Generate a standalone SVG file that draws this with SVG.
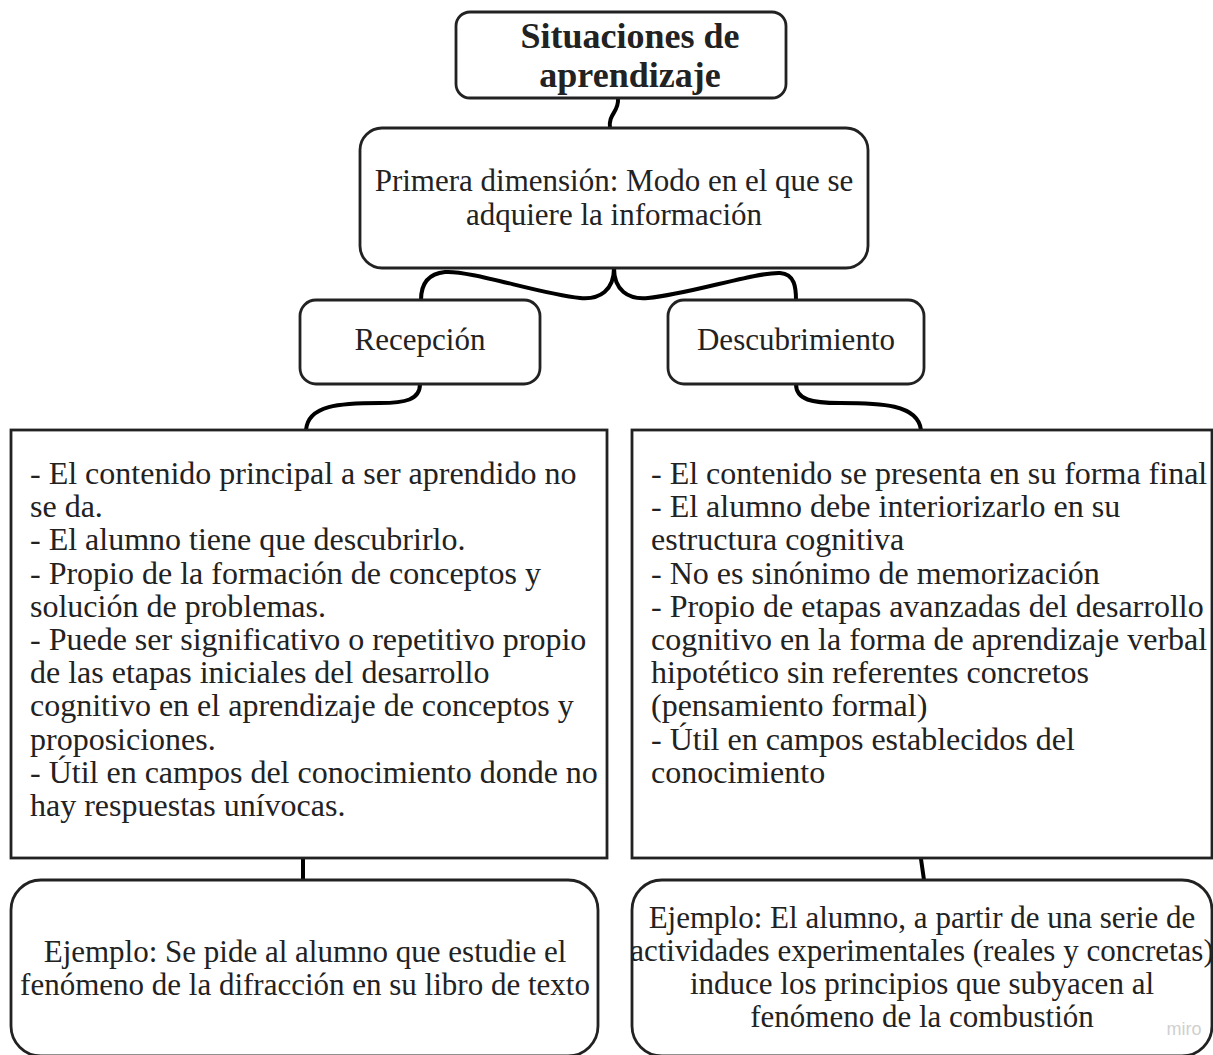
<svg xmlns="http://www.w3.org/2000/svg" width="1213" height="1055" viewBox="0 0 1213 1055">
<style>
.box{fill:#fff;stroke:#222;stroke-width:2.8}
.t{font-family:"Liberation Serif","Times New Roman",serif;font-size:31px;fill:#222}
.tl{font-family:"Liberation Serif","Times New Roman",serif;font-size:32px;fill:#222}
.tb{font-family:"Liberation Serif","Times New Roman",serif;font-size:36px;font-weight:bold;fill:#222}
.c{text-anchor:middle}
.con{fill:none;stroke:#000;stroke-width:4;stroke-linecap:round}
</style>
<rect width="1213" height="1055" fill="#fff"/>
<g id="connectors">
<path class="con" d="M618,99 C619,112 608,114 610,128"/>
<path class="con" d="M614,268 C614,290 600,300 580,298 C540,294 470,270 445,272 C425,274 421,288 421,300"/>
<path class="con" d="M614,268 C614,290 628,300 648,298 C690,294 755,272 780,273 C795,274 796,288 796,300"/>
<path class="con" d="M420,384 C420,400 405,403 380,403 C340,403 308,405 306,430"/>
<path class="con" d="M796,384 C796,400 812,403 840,403 C880,403 918,404 921,430"/>
<path class="con" d="M303,859 L303,880"/>
<path class="con" d="M921,859 L924,880"/>
</g>
<g id="n-title">
<rect class="box" x="456" y="12" width="330" height="86" rx="14"/>
<text class="tb c" x="630" y="48">Situaciones de</text>
<text class="tb c" x="630" y="87">aprendizaje</text>
</g>
<g id="n-dim">
<rect class="box" x="360" y="128" width="508" height="140" rx="22"/>
<text class="t c" x="614" y="191">Primera dimensión: Modo en el que se</text>
<text class="t c" x="614" y="225">adquiere la información</text>
</g>
<g id="n-recepcion">
<rect class="box" x="300" y="300" width="240" height="84" rx="16"/>
<text class="t c" x="420" y="350">Recepción</text>
</g>
<g id="n-descubrimiento">
<rect class="box" x="668" y="300" width="256" height="84" rx="16"/>
<text class="t c" x="796" y="350">Descubrimiento</text>
</g>
<g id="n-left-body">
<rect class="box" x="11" y="430" width="596" height="428"/>
<text class="tl" x="30" y="484">
<tspan x="30" dy="0">- El contenido principal a ser aprendido no</tspan>
<tspan x="30" dy="33.2">se da.</tspan>
<tspan x="30" dy="33.2">- El alumno tiene que descubrirlo.</tspan>
<tspan x="30" dy="33.2">- Propio de la formación de conceptos y</tspan>
<tspan x="30" dy="33.2">solución de problemas.</tspan>
<tspan x="30" dy="33.2">- Puede ser significativo o repetitivo propio</tspan>
<tspan x="30" dy="33.2">de las etapas iniciales del desarrollo</tspan>
<tspan x="30" dy="33.2">cognitivo en el aprendizaje de conceptos y</tspan>
<tspan x="30" dy="33.2">proposiciones.</tspan>
<tspan x="30" dy="33.2">- Útil en campos del conocimiento donde no</tspan>
<tspan x="30" dy="33.2">hay respuestas unívocas.</tspan>
</text>
</g>
<g id="n-right-body">
<rect class="box" x="632" y="430" width="580" height="428"/>
<text class="tl" x="651" y="484">
<tspan x="651" dy="0">- El contenido se presenta en su forma final</tspan>
<tspan x="651" dy="33.2">- El alumno debe interiorizarlo en su</tspan>
<tspan x="651" dy="33.2">estructura cognitiva</tspan>
<tspan x="651" dy="33.2">- No es sinónimo de memorización</tspan>
<tspan x="651" dy="33.2">- Propio de etapas avanzadas del desarrollo</tspan>
<tspan x="651" dy="33.2">cognitivo en la forma de aprendizaje verbal</tspan>
<tspan x="651" dy="33.2">hipotético sin referentes concretos</tspan>
<tspan x="651" dy="33.2">(pensamiento formal)</tspan>
<tspan x="651" dy="33.2">- Útil en campos establecidos del</tspan>
<tspan x="651" dy="33.2">conocimiento</tspan>
</text>
</g>
<g id="n-left-example">
<rect class="box" x="11" y="880" width="587" height="176" rx="30"/>
<text class="t c" x="305" y="962">Ejemplo: Se pide al alumno que estudie el</text>
<text class="t c" x="305" y="995">fenómeno de la difracción en su libro de texto</text>
</g>
<g id="n-right-example">
<rect class="box" x="632" y="880" width="580" height="176" rx="30"/>
<text class="t c" x="922" y="928">Ejemplo: El alumno, a partir de una serie de</text>
<text class="t c" x="922" y="961">actividades experimentales (reales y concretas)</text>
<text class="t c" x="922" y="994">induce los principios que subyacen al</text>
<text class="t c" x="922" y="1027">fenómeno de la combustión</text>
</g>
<text x="1184" y="1035" font-family="Liberation Sans,Arial,sans-serif" font-size="18" fill="#cfcfcf" text-anchor="middle">miro</text>
</svg>
